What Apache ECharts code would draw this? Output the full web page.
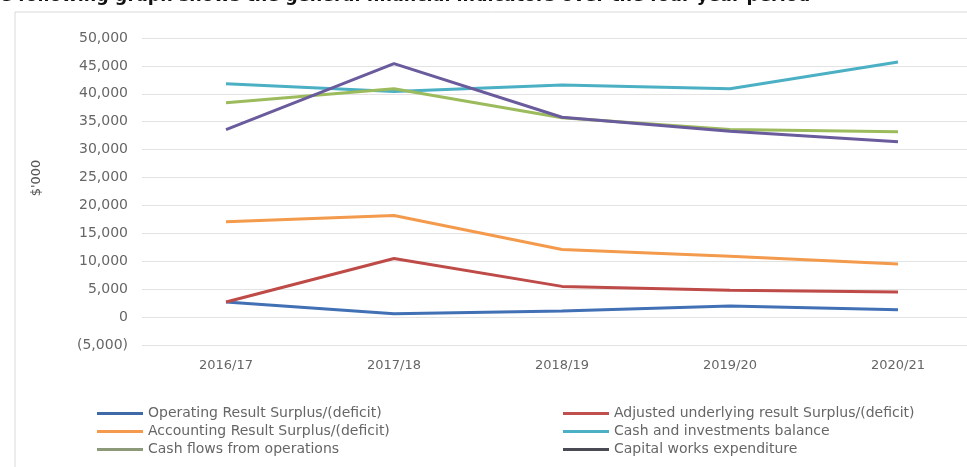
<!DOCTYPE html>
<html>
<head>
<meta charset="utf-8">
<style>
  html, body { margin: 0; padding: 0; background: #fff; }
  #chart { width: 967px; height: 467px; }
</style>
<script src="https://cdn.jsdelivr.net/npm/echarts@6/dist/echarts.min.js"></script>
</head>
<body>
<div id="chart"></div>
<script>
// Financial years on the category axis
const years = ['2016/17', '2017/18', '2018/19', '2019/20', '2020/21'];

// Indicator values, $'000
const operatingResult = [2700, 600, 1100, 2000, 1300];
const adjustedUnderlying = [2700, 10500, 5500, 4800, 4500];
const accountingResult = [17100, 18200, 12100, 10900, 9500];
const cashInvestments = [41800, 40400, 41600, 40900, 45700];
const cashFlowsOps = [38400, 40900, 35700, 33600, 33200];
const capitalWorks = [33600, 45400, 35800, 33300, 31400];

const seriesNames = [
  'Operating Result Surplus/(deficit)',
  'Adjusted underlying result Surplus/(deficit)',
  'Accounting Result Surplus/(deficit)',
  'Cash and investments balance',
  'Cash flows from operations',
  'Capital works expenditure'
];
const seriesData = [operatingResult, adjustedUnderlying, accountingResult, cashInvestments, cashFlowsOps, capitalWorks];
const lineColors = ['#4170b5', '#be4b48', '#f39a4c', '#4bb0c4', '#9cbb5c', '#6a5b9c'];
const legendColors = ['#3f6aa8', '#c0504d', '#f39a4c', '#4bb0c4', '#8c9a7a', '#4a4a55'];

const textColor = '#666666';
const font = '"DejaVu Sans", sans-serif';

const chart = echarts.init(document.getElementById('chart'));

function fmt(v) {
  const s = Math.abs(v).toLocaleString('en-US');
  return v < 0 ? '(' + s + ')' : s;
}

const legendCommon = {
  orient: 'vertical',
  icon: 'rect',
  itemWidth: 46,
  itemHeight: 3,
  itemGap: 3,
  textGap: 0,
  padding: 0,
  selectedMode: false,
  textStyle: { color: textColor, fontSize: 14, fontFamily: font, lineHeight: 15 }
};

chart.setOption({
  animation: false,
  color: lineColors,
  graphic: [
    {
      type: 'rect',
      shape: { x: 15, y: 12, width: 1000, height: 500 },
      style: { fill: 'none', stroke: '#d9d9d9', lineWidth: 1 },
      silent: true
    },
    {
      type: 'text',
      left: 0,
      top: -13,
      style: {
        text: 'e following graph shows the general financial indicators over the four year period',
        fill: '#111',
        font: 'bold 17.5px ' + font
      }
    },
    {
      type: 'text',
      x: 37,
      y: 178,
      rotation: Math.PI / 2,
      style: {
        text: "$'000",
        fill: '#555555',
        font: '13px ' + font,
        align: 'center',
        verticalAlign: 'middle'
      }
    }
  ],
  legend: [
    Object.assign({}, legendCommon, {
      left: 97, top: 406,
      data: [0, 2, 4].map(i => ({ name: seriesNames[i], itemStyle: { color: legendColors[i] } }))
    }),
    Object.assign({}, legendCommon, {
      left: 563, top: 406,
      data: [1, 3, 5].map(i => ({ name: seriesNames[i], itemStyle: { color: legendColors[i] } }))
    })
  ],
  grid: { left: 142, width: 840, top: 38, bottom: 122, outerBoundsMode: 'none' },
  xAxis: {
    type: 'category',
    data: years,
    boundaryGap: true,
    axisLine: { show: false },
    axisTick: { show: false },
    axisLabel: { color: textColor, fontSize: 13, fontFamily: font, margin: 14 }
  },
  yAxis: {
    type: 'value',
    min: -5000,
    max: 50000,
    interval: 5000,
    axisLine: { show: false },
    axisTick: { show: false },
    axisLabel: { color: textColor, fontSize: 14, fontFamily: font, margin: 14, formatter: fmt },
    splitLine: { lineStyle: { color: '#e3e3e3', width: 1 } }
  },
  series: seriesData.map((d, i) => ({
    name: seriesNames[i],
    type: 'line',
    data: d,
    symbol: 'none',
    lineStyle: { width: 3, color: lineColors[i] },
    itemStyle: { color: lineColors[i] }
  }))
});
</script>
</body>
</html>
